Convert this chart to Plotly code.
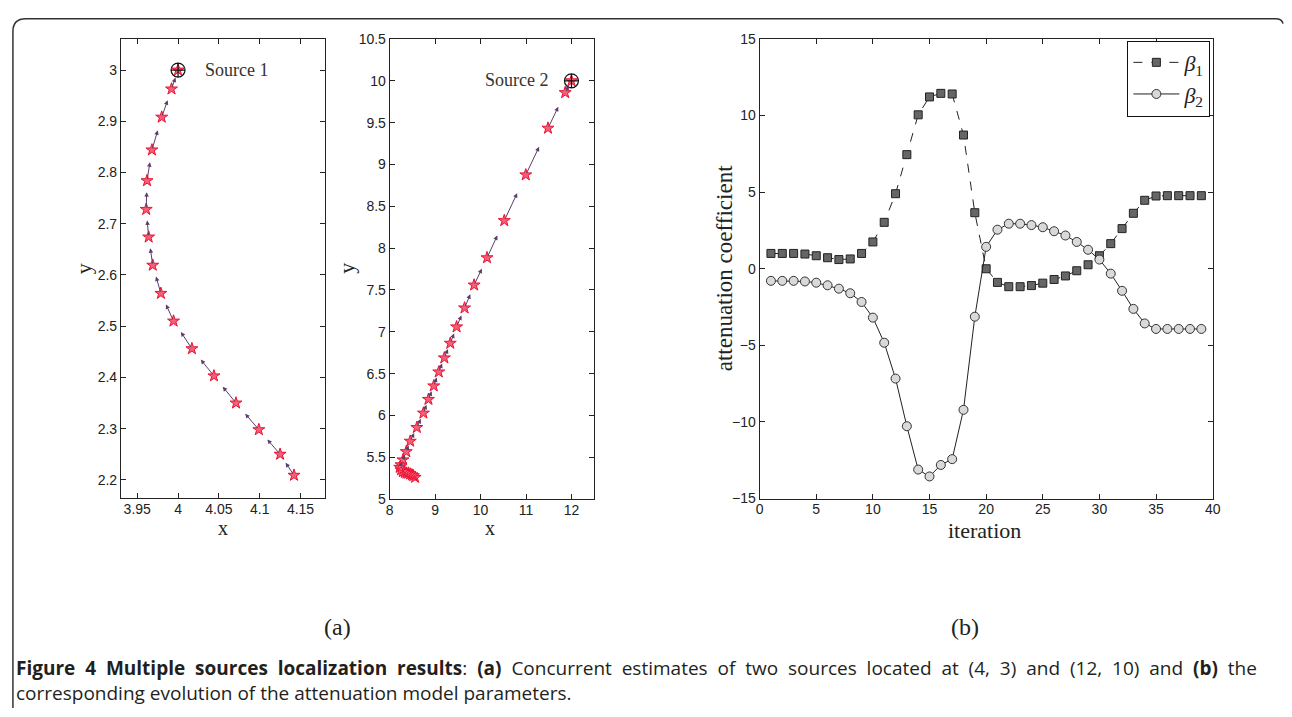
import plotly.graph_objects as go

W, H = 1292, 717

# ---------------- data ----------------
# Source 1 trajectory (estimates, from start to final)
s1_x = [4.142, 4.125, 4.099, 4.071, 4.044, 4.017, 3.9945, 3.979, 3.969, 3.964,
        3.961, 3.962, 3.968, 3.980, 3.992, 4.0]
s1_y = [2.209, 2.250, 2.298, 2.350, 2.403, 2.456, 2.510, 2.564, 2.619, 2.674,
        2.728, 2.784, 2.844, 2.908, 2.963, 3.0]

# Source 2 trajectory
s2_x = [8.56, 8.52, 8.49, 8.45, 8.41, 8.37, 8.33, 8.29, 8.25, 8.22, 8.25,
        8.293, 8.365, 8.452, 8.598, 8.743, 8.853, 8.97, 9.08, 9.203, 9.334,
        9.473, 9.648, 9.858, 10.142, 10.522, 10.995, 11.484, 11.862, 12.0]
s2_y = [5.26, 5.28, 5.29, 5.30, 5.31, 5.31, 5.32, 5.33, 5.35, 5.38, 5.41,
        5.469, 5.567, 5.692, 5.856, 6.028, 6.192, 6.353, 6.52, 6.688, 6.863,
        7.059, 7.285, 7.559, 7.885, 8.329, 8.876, 9.434, 9.859, 10.0]

src_x = [4, 12]
src_y = [3, 10]
src_names = ["Source 1", "Source 2"]

iterations = [1, 2, 3, 4, 5, 6, 7, 8, 9, 10, 11, 12, 13, 14, 15, 16, 17, 18, 19, 20,
              21, 22, 23, 24, 25, 26, 27, 28, 29, 30, 31, 32, 33, 34, 35, 36, 37, 38, 39]
beta1 = [1.0, 1.0, 1.0, 0.96, 0.85, 0.72, 0.6, 0.64, 1.0,
         1.75, 3.03, 4.9, 7.45, 10.05, 11.22, 11.45, 11.41, 8.73, 3.66,
         0.0, -0.89, -1.17, -1.17, -1.1, -0.94, -0.7, -0.47, -0.13, 0.26,
         0.85, 1.64, 2.62, 3.62, 4.47, 4.75, 4.77, 4.77, 4.77, 4.77]
beta2 = [-0.79, -0.79, -0.79, -0.83, -0.91, -1.08, -1.3, -1.6, -2.17,
         -3.19, -4.83, -7.17, -10.28, -13.11, -13.56, -12.81, -12.43, -9.21, -3.13,
         1.43, 2.55, 2.94, 2.94, 2.85, 2.71, 2.45, 2.17, 1.75, 1.24,
         0.6, -0.32, -1.44, -2.62, -3.57, -3.93, -3.93, -3.93, -3.93, -3.93]

# tick labels
p1_xticks = [3.95, 4.0, 4.05, 4.1, 4.15]
p1_xlabels = ["3.95", "4", "4.05", "4.1", "4.15"]
p1_yticks = [2.2, 2.3, 2.4, 2.5, 2.6, 2.7, 2.8, 2.9, 3.0]
p1_ylabels = ["2.2", "2.3", "2.4", "2.5", "2.6", "2.7", "2.8", "2.9", "3"]
p2_xticks = [8, 9, 10, 11, 12]
p2_xlabels = ["8", "9", "10", "11", "12"]
p2_yticks = [5, 5.5, 6, 6.5, 7, 7.5, 8, 8.5, 9, 9.5, 10, 10.5]
p2_ylabels = ["5", "5.5", "6", "6.5", "7", "7.5", "8", "8.5", "9", "9.5", "10", "10.5"]
p3_xticks = [0, 5, 10, 15, 20, 25, 30, 35, 40]
p3_yticks = [-15, -10, -5, 0, 5, 10, 15]

ARROW_FRAC = 0.6

# ---------------- styling helpers ----------------
def px(x):
    return x / W

def py(y):
    return 1 - y / H

AXC = "#222222"
TICKFONT = dict(family="Liberation Sans, Arial, sans-serif", size=14, color="#222222")
SERIF = "Liberation Serif, Times New Roman, serif"
STAR_FILL = "#f4607a"
STAR_LINE = "#ee1030"
ARROW_C = "#5b3d6b"

def axis_common():
    return dict(showline=True, linecolor=AXC, linewidth=1, mirror="ticks",
                ticks="inside", ticklen=5, tickcolor=AXC, tickwidth=1,
                showgrid=False, zeroline=False, tickfont=TICKFONT)

fig = go.Figure()

# ---------------- panel 1 ----------------
fig.add_trace(go.Scatter(x=s1_x, y=s1_y, mode="markers", xaxis="x", yaxis="y",
                         marker=dict(symbol="star", size=9, color=STAR_FILL,
                                     line=dict(color=STAR_LINE, width=1)),
                         showlegend=False, hoverinfo="x+y"))
fig.add_trace(go.Scatter(x=[src_x[0]], y=[src_y[0]], mode="markers", xaxis="x", yaxis="y",
                         marker=dict(symbol="circle-cross-open", size=14, color="#111111",
                                     line=dict(width=1.2)),
                         showlegend=False))

# ---------------- panel 2 ----------------
fig.add_trace(go.Scatter(x=s2_x, y=s2_y, mode="markers", xaxis="x2", yaxis="y2",
                         marker=dict(symbol="star", size=9, color=STAR_FILL,
                                     line=dict(color=STAR_LINE, width=1)),
                         showlegend=False, hoverinfo="x+y"))
fig.add_trace(go.Scatter(x=[src_x[1]], y=[src_y[1]], mode="markers", xaxis="x2", yaxis="y2",
                         marker=dict(symbol="circle-cross-open", size=14, color="#111111",
                                     line=dict(width=1.2)),
                         showlegend=False))

# ---------------- panel 3 ----------------
fig.add_trace(go.Scatter(x=iterations, y=beta1, mode="lines+markers", xaxis="x3", yaxis="y3",
                         name="<i>β</i><sub>1</sub>",
                         line=dict(color="#222222", width=1, dash="dash"),
                         marker=dict(symbol="square", size=8, color="#666666",
                                     line=dict(color="#222222", width=1))))
fig.add_trace(go.Scatter(x=iterations, y=beta2, mode="lines+markers", xaxis="x3", yaxis="y3",
                         name="<i>β</i><sub>2</sub>",
                         line=dict(color="#222222", width=1),
                         marker=dict(symbol="circle", size=9, color="#d9d9d9",
                                     line=dict(color="#333333", width=1))))

# arrows (quiver-like) from each estimate toward the next one
annotations = []
def add_arrows(xs, ys, xr, yr):
    for i in range(len(xs) - 1):
        hx = xs[i] + ARROW_FRAC * (xs[i + 1] - xs[i])
        hy = ys[i] + ARROW_FRAC * (ys[i + 1] - ys[i])
        annotations.append(dict(x=hx, y=hy, ax=xs[i], ay=ys[i], xref=xr, yref=yr,
                                axref=xr, ayref=yr, text="", showarrow=True,
                                arrowhead=2, arrowsize=0.9, arrowwidth=1,
                                arrowcolor=ARROW_C))

add_arrows(s1_x, s1_y, "x", "y")
add_arrows(s2_x, s2_y, "x2", "y2")

def label(x, y, text, size, angle=0, color="#222222", family=SERIF, xanchor="center",
          align="center"):
    annotations.append(dict(x=px(x), y=py(y), xref="paper", yref="paper", text=text,
                            showarrow=False, xanchor=xanchor, yanchor="middle",
                            textangle=angle, align=align,
                            font=dict(family=family, size=size, color=color)))

# source labels
label(235, 63, src_names[0], 18, color="#333333")
label(517, 74, src_names[1], 18, color="#333333")

# axis titles
label(221, 532, "x", 20)
label(80, 267, "y", 22, angle=-90)
label(491, 532, "x", 20)
label(345, 266, "y", 22, angle=-90)
label(990, 534, "iteration", 22)
label(727, 266, "attenuation coefficient", 23, angle=-90)

# panel labels
label(337, 633, "(a)", 24)
label(970, 633, "(b)", 24)

# caption (two lines in one text block)
CAPF = "Open Sans, Noto Sans, sans-serif"
cap1_words = ["<b>Figure", "4", "Multiple", "sources", "localization", "results</b>:",
              "<b>(a)</b>", "Concurrent", "estimates", "of", "two", "sources", "located",
              "at", "(4,", "3)", "and", "(12,", "10)", "and", "<b>(b)</b>", "the"]
cap1 = "\u00a0 ".join(cap1_words)
cap2 = "corresponding evolution of the attenuation model parameters."
label(10, 688, cap1 + "<br>" + cap2, 19, color="#231f20", family=CAPF,
      xanchor="left", align="left")

# ---------------- layout ----------------
xa1 = axis_common(); xa1.update(domain=[px(118), px(324)], range=[3.93, 4.18],
                                tickvals=p1_xticks, ticktext=p1_xlabels, anchor="y",
                                ticklabelstandoff=-2)
ya1 = axis_common(); ya1.update(domain=[py(501.5), py(32)], range=[2.164, 3.06],
                                tickvals=p1_yticks, ticktext=p1_ylabels, anchor="x")
xa2 = axis_common(); xa2.update(domain=[px(389.3), px(595.7)], range=[8, 12.5],
                                tickvals=p2_xticks, ticktext=p2_xlabels, anchor="y2",
                                ticklabelstandoff=-2)
ya2 = axis_common(); ya2.update(domain=[py(502.3), py(31.7)], range=[5, 10.5],
                                tickvals=p2_yticks, ticktext=p2_ylabels, anchor="x2")
xa3 = axis_common(); xa3.update(domain=[px(762.7), px(1220)], range=[0, 40],
                                tickvals=p3_xticks, anchor="y3", ticklabelstandoff=-2)
ya3 = axis_common(); ya3.update(domain=[py(501.7), py(31.7)], range=[-15, 15],
                                tickvals=p3_yticks, anchor="x3")

# rounded frame around the figure (kept inside the page)
def P(x, y):
    return f"{px(x):.5f},{py(y):.5f}"
frame = ("M " + P(9, 716) + " L " + P(9, 24) + " Q " + P(9, 11) + " " + P(22, 11) +
         " L " + P(1283, 11) + " Q " + P(1290, 11) + " " + P(1291, 16))

fig.update_layout(
    width=W, height=H,
    margin=dict(l=0, r=0, t=0, b=0),
    paper_bgcolor="white", plot_bgcolor="white",
    xaxis=xa1, yaxis=ya1, xaxis2=xa2, yaxis2=ya2, xaxis3=xa3, yaxis3=ya3,
    annotations=annotations,
    shapes=[dict(type="path", path=frame, xref="paper", yref="paper",
                 line=dict(color="#333333", width=1.5), layer="above")],
    legend=dict(x=px(1217.7), y=py(33.3), xanchor="right", yanchor="top",
                bgcolor="white", bordercolor="#111111", borderwidth=1,
                font=dict(family=SERIF, size=22, color="#222222"),
                tracegroupgap=0, itemwidth=46),
    showlegend=True,
)

fig.write_html("out.html",
               config={"displayModeBar": False},
               post_script="document.body.style.margin='0px';"
                           "document.documentElement.style.overflow='hidden';")
